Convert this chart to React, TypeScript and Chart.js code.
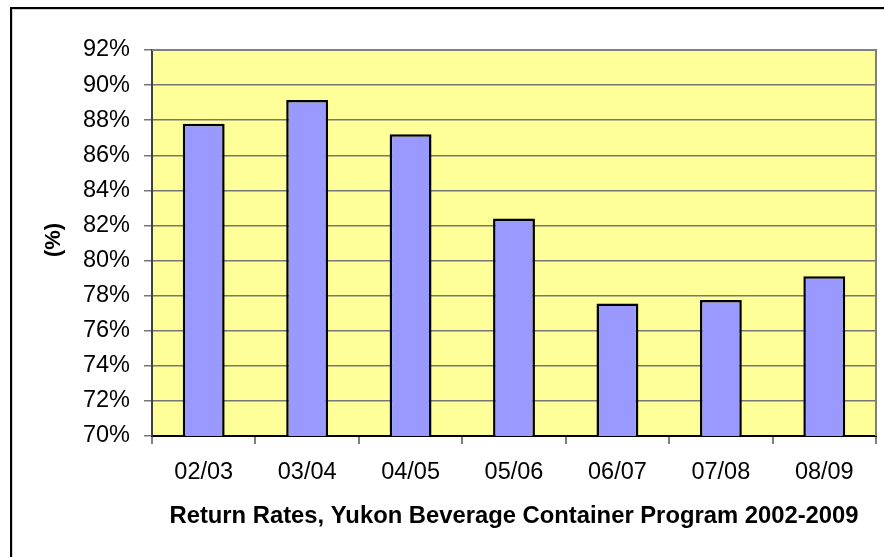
import React, { useEffect, useRef } from "react";
import { Chart, registerables } from "chart.js";

Chart.register(...registerables);

const categories = ["02/03", "03/04", "04/05", "05/06", "06/07", "07/08", "08/09"];
const returnRates = [87.8, 89.15, 87.2, 82.4, 77.55, 77.75, 79.1];
const yMin = 70;
const yMax = 92;
const yStep = 2;
const xTitle = "Return Rates, Yukon Beverage Container Program 2002-2009";
const yTitle = " (%)";

const plotBg = {
  id: "plotBg",
  beforeDraw(chart: any) {
    const { ctx, chartArea } = chart;
    ctx.save();
    ctx.fillStyle = "#FFFF99";
    ctx.fillRect(chartArea.left, chartArea.top, chartArea.right - chartArea.left, chartArea.bottom - chartArea.top);
    ctx.restore();
  },
  afterDraw(chart: any) {
    const { ctx, chartArea } = chart;
    ctx.save();
    ctx.strokeStyle = "#808080";
    ctx.lineWidth = 2;
    ctx.beginPath();
    ctx.moveTo(chartArea.left, chartArea.top);
    ctx.lineTo(chartArea.right, chartArea.top);
    ctx.lineTo(chartArea.right, chartArea.bottom);
    ctx.stroke();
    ctx.restore();
  },
};

export default function App() {
  const ref = useRef<HTMLCanvasElement | null>(null);
  useEffect(() => {
    if (!ref.current) return;
    const font = "'Liberation Sans', Arial, sans-serif";
    const chart = new Chart(ref.current, {
      type: "bar",
      data: {
        labels: categories,
        datasets: [
          {
            data: returnRates,
            backgroundColor: "#9999FF",
            borderColor: "#000000",
            borderWidth: 2.5,
            categoryPercentage: 1,
            barPercentage: 0.405,
          },
        ],
      },
      options: {
        animation: false,
        responsive: false,
        devicePixelRatio: 1,
        layout: { padding: { left: 0, top: 50, right: 8, bottom: 0 } },
        plugins: {
          legend: { display: false },
          tooltip: { enabled: false },
        },
        scales: {
          x: {
            afterFit: (s: any) => {
              s.height = 121;
            },
            grid: {
              drawOnChartArea: false,
              color: "#808080",
              tickLength: 8,
              lineWidth: 2,
            },
            border: { color: "#000000", width: 2 },
            ticks: {
              color: "#000000",
              padding: 14,
              font: { family: font, size: 23.5 },
            },
            title: {
              display: true,
              text: xTitle,
              color: "#000000",
              font: { family: font, size: 23.8, weight: "bold" },
              padding: { top: 0, bottom: 26.3 },
            },
          },
          y: {
            min: yMin,
            max: yMax,
            afterFit: (s: any) => {
              s.width = 152;
            },
            grid: {
              color: "#767676",
              tickLength: 8,
              lineWidth: 1.5,
            },
            border: { color: "#404040", width: 2 },
            ticks: {
              stepSize: yStep,
              color: "#000000",
              padding: 14,
              font: { family: font, size: 23.5 },
              callback: (v: any) => v + "%",
            },
            title: {
              display: true,
              text: yTitle,
              color: "#000000",
              font: { family: font, size: 22, weight: "bold" },
              padding: { top: 41, bottom: 0 },
            },
          },
        },
      },
      plugins: [plotBg],
    });
    return () => chart.destroy();
  }, []);

  return (
    <div style={{ position: "fixed", left: 0, top: 0, width: 884, height: 557, background: "#fff", overflow: "hidden" }}>
      <div
        style={{
          position: "absolute",
          left: 10,
          top: 7,
          width: 900,
          height: 600,
          borderTop: "2px solid #000",
          borderLeft: "2px solid #000",
          boxShadow: "inset 1px 1px 0 #d0d0d0",
        }}
      />
      <canvas ref={ref} width={884} height={557} style={{ position: "absolute", left: 0, top: 0 }} />
    </div>
  );
}
